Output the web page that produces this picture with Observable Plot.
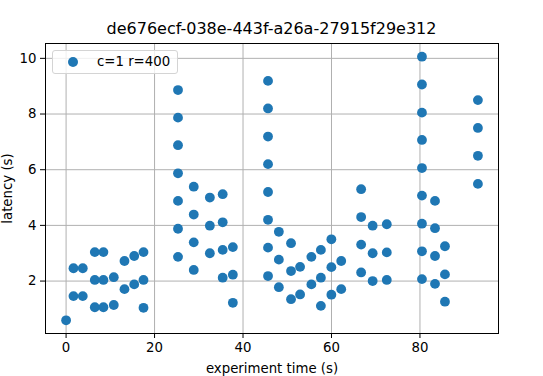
<!DOCTYPE html>
<html>
<head>
<meta charset="utf-8">
<script src="https://cdn.jsdelivr.net/npm/d3@7"></script>
<script src="https://cdn.jsdelivr.net/npm/@observablehq/plot@0.6"></script>
<style>
  html, body { margin: 0; padding: 0; background: #fff; }
  #wrap { position: relative; width: 543px; height: 376px; font-family: "DejaVu Sans", sans-serif; }
  #title { position: absolute; left: 0; top: 19px; width: 543px; text-align: center; font-size: 16px; line-height: 20px; color: #000; }
  #legend { position: absolute; left: 52px; top: 50px; width: 124px; height: 22px; border: 1px solid #d4d4d4; border-radius: 3px; background: rgba(255,255,255,0.8); font-size: 13.3px; color: #000; }
  #legend .sw { position: absolute; left: 15px; top: 6px; width: 10px; height: 10px; border-radius: 50%; background: #1f77b4; }
  #legend .lb { position: absolute; left: 44px; top: 2px; line-height: 18px; white-space: nowrap; }
  svg { position: absolute; left: 0; top: 0; }
</style>
</head>
<body>
<div id="wrap">
  <div id="chart"></div>
  <div id="title">de676ecf-038e-443f-a26a-27915f29e312</div>
  <div id="legend"><span class="sw"></span><span class="lb">c=1 r=400</span></div>
</div>
<script>
const seriesName = "c=1 r=400";
const times = [
  0,
  1.67, 1.67,
  3.77, 3.77,
  6.49, 6.49, 6.49,
  8.44, 8.44, 8.44,
  10.78, 10.78,
  13.2, 13.2,
  15.4, 15.4,
  17.5, 17.5, 17.5,
  25.3, 25.3, 25.3, 25.3, 25.3, 25.3, 25.3,
  28.86, 28.86, 28.86, 28.86,
  32.5, 32.5, 32.5,
  35.4, 35.4, 35.4, 35.4,
  37.7, 37.7, 37.7,
  45.65, 45.65, 45.65, 45.65, 45.65, 45.65, 45.65, 45.65,
  48.1, 48.1, 48.1,
  50.85, 50.85, 50.85,
  52.9, 52.9,
  55.45, 55.45,
  57.6, 57.6, 57.6,
  59.97, 59.97, 59.97,
  62.2, 62.2,
  66.7, 66.7, 66.7, 66.7,
  69.3, 69.3, 69.3,
  72.5, 72.5, 72.5,
  80.45, 80.45, 80.45, 80.45, 80.45, 80.45, 80.45, 80.45, 80.45,
  83.4, 83.4, 83.4, 83.4,
  85.65, 85.65, 85.65,
  93.1, 93.1, 93.1, 93.1
];
const latencies = [
  0.59,
  2.46, 1.46,
  2.46, 1.46,
  3.04, 2.04, 1.06,
  3.04, 2.04, 1.06,
  2.14, 1.14,
  2.72, 1.71,
  2.90, 1.88,
  3.04, 2.04, 1.04,
  8.86, 7.87, 6.88, 5.87, 4.88, 3.88, 2.87,
  5.39, 4.39, 3.39, 2.40,
  5.00, 3.99, 3.00,
  5.12, 4.11, 3.12, 2.12,
  3.22, 2.23, 1.22,
  9.19, 8.20, 7.19, 6.20, 5.20, 4.20, 3.20, 2.18,
  3.77, 2.77, 1.78,
  3.36, 2.36, 1.35,
  2.51, 1.52,
  2.87, 1.88,
  3.12, 2.12, 1.11,
  3.50, 2.50, 1.51,
  2.72, 1.71,
  5.30, 4.30, 3.31, 2.31,
  3.99, 3.00, 2.00,
  4.04, 3.03, 2.04,
  10.06, 9.06, 8.05, 7.07, 6.06, 5.07, 4.06, 3.07, 2.07,
  4.88, 3.90, 2.90, 1.90,
  3.25, 2.24, 1.26,
  8.50, 7.50, 6.50, 5.49
];
const xTicks = [0, 20, 40, 60, 80];
const yTicks = [2, 4, 6, 8, 10];

const data = times.map((t, i) => ({time: t, latency: latencies[i], series: seriesName}));

function padded(values) {
  const [lo, hi] = d3.extent(values);
  const m = (hi - lo) * 0.05;
  return [lo - m, hi + m];
}

const chart = Plot.plot({
  width: 543,
  height: 376,
  marginLeft: 45,
  marginRight: 45,
  marginTop: 43,
  marginBottom: 43,
  style: {fontFamily: "DejaVu Sans, sans-serif", fontSize: "13.3px", background: "white", color: "black"},
  x: {domain: padded(times), ticks: xTicks, tickSize: 5, tickPadding: 4, label: "experiment time (s)", labelArrow: "none", labelAnchor: "center", labelOffset: 39},
  y: {domain: padded(latencies), ticks: yTicks, tickSize: 5, tickPadding: 4, label: "latency (s)", labelArrow: "none", labelAnchor: "center", labelOffset: 43},
  marks: [
    Plot.gridX(xTicks, {stroke: "#b0b0b0", strokeOpacity: 1, strokeWidth: 1}),
    Plot.gridY(yTicks, {stroke: "#b0b0b0", strokeOpacity: 1, strokeWidth: 1}),
    Plot.dot(data, {x: "time", y: "latency", r: 4.9, fill: "#1f77b4", stroke: "#1f77b4", strokeWidth: 0}),
    Plot.frame({stroke: "black", strokeWidth: 1})
  ]
});
document.getElementById("chart").appendChild(chart);
</script>
</body>
</html>
